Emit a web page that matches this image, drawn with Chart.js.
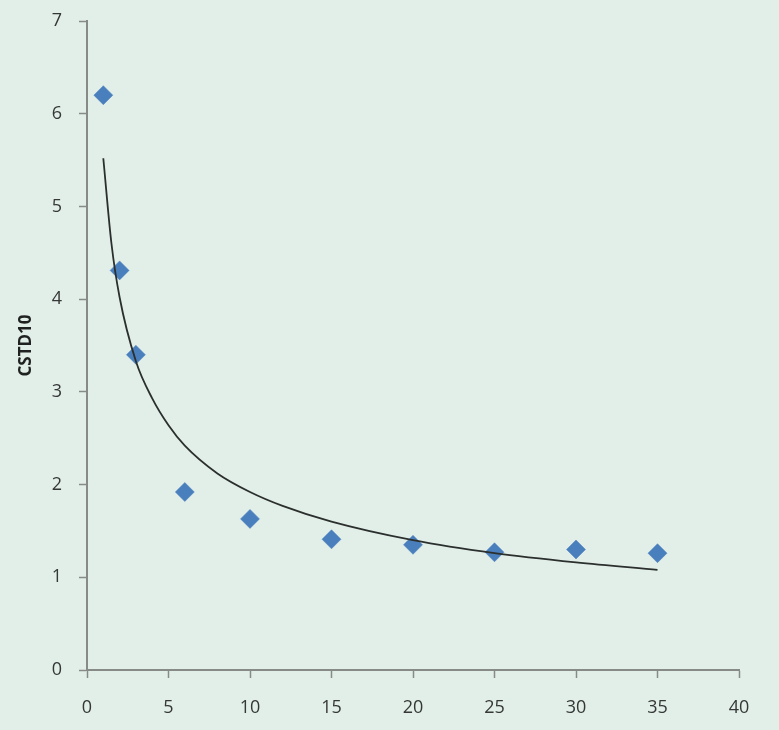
<!DOCTYPE html>
<html>
<head>
<meta charset="utf-8">
<script src="https://cdn.jsdelivr.net/npm/chart.js@4"></script>
<style>
  html, body { margin: 0; padding: 0; background: #e2efe9; }
  #wrap { width: 779px; height: 730px; position: relative; }
</style>
</head>
<body>
<div id="wrap"><canvas id="c" width="779" height="730"></canvas></div>
<script>
// Measured CSTD10 values
const sampleX = [1, 2, 3, 6, 10, 15, 20, 25, 30, 35];
const cstd10 = [6.2, 4.31, 3.40, 1.92, 1.63, 1.41, 1.35, 1.27, 1.30, 1.26];

// Power trend line, sampled along its course
const trendX = [1, 1.5, 2, 3, 4, 5, 6, 8, 10, 12, 15, 20, 25, 30, 35];
const trendY = [5.52, 4.6, 4.02, 3.33, 2.93, 2.64, 2.42, 2.12, 1.92, 1.77, 1.60, 1.40, 1.26, 1.16, 1.08];

const xTicks = [0, 5, 10, 15, 20, 25, 30, 35, 40];
const yTicks = [0, 1, 2, 3, 4, 5, 6, 7];
const yTitle = 'CSTD10';

const toPoints = (xs, ys) => xs.map((x, i) => ({ x: x, y: ys[i] }));

const axisColor = '#878b88';
const tickFont = { family: "'Open Sans', 'Noto Sans', sans-serif", size: 18, lineHeight: 1 };

new Chart(document.getElementById('c'), {
  type: 'scatter',
  data: {
    datasets: [
      {
        label: 'Power trend',
        data: toPoints(trendX, trendY),
        showLine: true,
        borderColor: '#2b2f2d',
        borderWidth: 1.8,
        pointRadius: 0,
        tension: 0.4,
        cubicInterpolationMode: 'monotone',
        fill: false
      },
      {
        label: yTitle,
        data: toPoints(sampleX, cstd10),
        pointStyle: 'rectRot',
        pointRadius: 9.5,
        pointBackgroundColor: '#4a7fbd',
        pointBorderColor: '#4a7fbd',
        pointBorderWidth: 0.5,
        showLine: false
      }
    ]
  },
  options: {
    responsive: false,
    animation: false,
    layout: { padding: { top: 21, right: 40, left: 0, bottom: 0 } },
    plugins: { legend: { display: false }, tooltip: { enabled: false } },
    scales: {
      x: {
        type: 'linear',
        min: 0, max: 40,
        afterBuildTicks: (s) => { s.ticks = xTicks.map(v => ({ value: v })); },
        afterFit: (s) => { s.height = 60; },
        grid: { display: true, drawOnChartArea: false, drawTicks: true, tickLength: 8, color: axisColor, tickColor: axisColor, tickWidth: 1.5 },
        border: { display: true, color: axisColor, width: 2 },
        ticks: { color: '#353837', font: tickFont, padding: 21, maxRotation: 0 }
      },
      y: {
        type: 'linear',
        min: 0, max: 7,
        afterBuildTicks: (s) => { s.ticks = yTicks.map(v => ({ value: v })); },
        afterFit: (s) => { s.width = 87; s.paddingTop = 0; s.paddingBottom = 0; },
        grid: { display: true, drawOnChartArea: false, drawTicks: true, tickLength: 8, color: axisColor, tickColor: axisColor, tickWidth: 1.5 },
        border: { display: true, color: axisColor, width: 2 },
        ticks: { color: '#353837', font: tickFont, padding: 17 },
        title: {
          display: true,
          text: yTitle,
          color: '#1f2220',
          font: { family: "'Open Sans', 'Noto Sans', sans-serif", size: 17, weight: 'bold' },
          padding: { top: 16, bottom: 0 }
        }
      }
    }
  }
});
</script>
</body>
</html>
